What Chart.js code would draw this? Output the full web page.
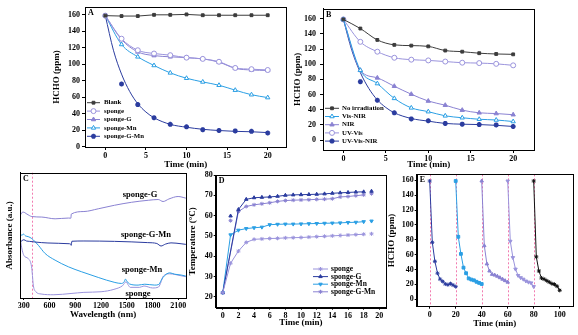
<!DOCTYPE html>
<html lang="en">
<head>
<meta charset="utf-8">
<title>HCHO removal and photothermal tests</title>
<script src="https://cdn.jsdelivr.net/npm/chart.js@4.4.0/dist/chart.umd.min.js"></script>
<style>
  body { margin: 0; background: #fff; }
  #wrap { position: relative; width: 578px; height: 335px; overflow: hidden; background: #fff; }
  canvas { position: absolute; }
</style>
</head>
<body>
<div id="wrap">
  <canvas id="chartA" style="left:40px;top:0px" width="252" height="172"></canvas>
  <canvas id="chartB" style="left:290px;top:0px" width="250" height="172"></canvas>
  <canvas id="chartC" style="left:0px;top:168px" width="190" height="167"></canvas>
  <canvas id="chartD" style="left:185px;top:168px" width="206" height="167"></canvas>
  <canvas id="chartE" style="left:385px;top:168px" width="193" height="167"></canvas>
</div>
<script>
// ---- data ----
// A: HCHO vs time for the different sponges
const timeAB = [0, 2, 4, 6, 8, 10, 12, 14, 16, 18, 20];
const blankA = [159, 158.5, 158.5, 160, 160, 160.5, 159.5, 159.5, 159.5, 159.5, 159.5];
const spongeA = [159, 131, 117, 113, 111, 108, 106.5, 103, 95.5, 94, 93];
const spongeGA = [159, 130, 115, 110.5, 109, 108, 106.5, 102.5, 95, 93, 92.5];
const spongeMnA = [159, 124, 109, 98.5, 89.5, 83, 78.5, 74.5, 68.5, 63, 59.5];
const spongeGMnA = [159, 76, 51, 35, 27, 24, 20.5, 19.5, 19, 18.5, 16.5];
// fitted curve drawn through the sponge-G-Mn / UV-Vis-NIR points
const fitTime = [0, 1, 2, 3, 4, 5, 6, 8, 10, 12, 14, 16, 18, 20];
const spongeGMnFit = [159, 117, 88, 67, 52, 42, 35, 27, 23.5, 21, 19.5, 18.5, 18, 17];

// B: HCHO vs time under different light
const noIrrB = [159, 147, 132, 125.5, 124.5, 123.5, 118, 116.5, 114.5, 113.5, 113];
const uvVisB = [159, 129.5, 116.5, 108.5, 106, 105, 103.5, 102, 101.5, 100.5, 98.5];
const nirB = [159, 92, 82, 71, 60.5, 51.5, 46, 39.5, 36, 35, 33.5];
const visNirB = [159, 92, 74.5, 55, 42.5, 37.5, 32, 29.5, 27.5, 26.5, 24.5];
const uvVisNirB = [159, 77, 52.5, 36, 28, 25.5, 22, 21, 20.5, 20, 18];
const uvVisNirFit = [159, 118, 89, 68, 53, 43, 36, 28.5, 25, 22, 21, 20.5, 19.5, 18];

// C: absorbance spectra (a.u.)
const wlSpongeG = [258, 275, 295, 335, 393, 509, 664, 819, 848, 853, 1000, 1167, 1356, 1556, 1750, 1866, 1923, 1990, 2098, 2188];
const absSpongeG = [66, 68, 68.5, 67, 65, 64.6, 63.2, 63.8, 63.7, 67, 69, 71.2, 74, 76.4, 78, 78.6, 77, 79, 81, 79.7];
const wlSpongeGMn = [258, 300, 330, 368, 426, 581, 833, 847, 852, 860, 1000, 1357, 1744, 1850, 1899, 1950, 2015, 2132, 2188];
const absSpongeGMn = [44.7, 46.5, 45.5, 45.2, 44.7, 43.9, 43.3, 43, 42, 45.3, 45.5, 45.2, 44.2, 43.5, 41.5, 43, 44, 43.3, 42.8];
const wlSpongeMn = [258, 275, 295, 320, 350, 393, 430, 470, 548, 664, 819, 974, 1167, 1361, 1438, 1470, 1485, 1500, 1535, 1632, 1709, 1826, 1872, 1900, 1922, 1960, 2000, 2058, 2136, 2188];
const absSpongeMn = [51.5, 50, 51, 49.5, 49, 47.4, 45, 42, 35.5, 30.2, 24.9, 20.9, 16.4, 12.4, 11.6, 13, 15.1, 13.5, 11.1, 10.3, 11, 10.3, 10.8, 14, 16.4, 19, 20.1, 19, 18.3, 17.5];
const wlSponge = [258, 265, 300, 350, 390, 400, 410, 440, 500, 650, 850, 1000, 1200, 1350, 1450, 1490, 1520, 1540, 1650, 1700, 1800, 1870, 1900, 1920, 2000, 2060, 2130, 2188];
const absSponge = [48, 44, 34, 31.5, 24.9, 18, 10.3, 5, 3.2, 2.6, 3.6, 4.5, 5, 6.9, 9.8, 12.9, 10, 8.5, 8.5, 9.6, 8, 8.8, 13, 16.9, 19.3, 18.8, 17.8, 17];
const edgeC = [400];

// D: temperature vs time
const timeD = [0, 1, 2, 3, 4, 5, 6, 7, 8, 9, 10, 11, 12, 13, 14, 15, 16, 17, 18];
const timeDG = [0, 2, 3, 4, 5, 6, 7, 8, 9, 10, 11, 12, 13, 14, 15, 16, 17, 18];
const tSponge = [22, 36.5, 42.5, 46.8, 48.3, 48.5, 48.7, 48.8, 49, 49.1, 49.2, 49.4, 49.6, 49.8, 50, 50.2, 50.4, 50.6, 50.8];
const tSpongeMn = [22, 50.5, 52.8, 53.6, 54, 54.3, 55.5, 55.7, 55.8, 55.8, 55.9, 56, 56.1, 56.2, 56.3, 56.4, 56.6, 56.7, 57];
const tSpongeG = [22, 63, 68, 68.8, 69, 69.2, 69.5, 70, 70.2, 70.3, 70.4, 70.5, 70.7, 71, 71.2, 71.4, 71.6, 71.7];
const tSpongeGMn = [22, 62, 64.5, 65.3, 65.8, 66.3, 67, 67.4, 67.6, 67.7, 67.8, 68, 68.1, 68.3, 69.2, 69.4, 69.8, 70.2];
// loose markers at t = 1 and t = 19
const looseT1 = [1, 19];
const looseT19 = [19];
const looseG = [59.8, 72];
const looseGMn = [57.5, 70.8];
const looseMn = [57.3];
const looseSponge = [51];

// E: five recycling runs
const cycleT1 = [0, 2, 4, 6, 8, 10, 12, 14, 16, 18, 20];
const cycleT2 = [20, 22, 24, 26, 28, 30, 32, 34, 36, 38, 40];
const cycleT3 = [40, 42, 44, 46, 48, 50, 52, 54, 56, 58, 60];
const cycleT4 = [60, 62, 64, 66, 68, 70, 72, 74, 76, 78, 80];
const cycleT5 = [80, 82, 84, 86, 88, 90, 92, 94, 96, 98, 100];
const cycle1 = [159, 76.5, 51, 35, 27, 24, 20.5, 19.5, 21, 19, 17];
const cycle2 = [159, 84, 61, 42.5, 35, 28, 26.5, 25.5, 23.5, 22, 20.5];
const cycle3 = [159, 72, 47.5, 38, 33.5, 32.5, 31, 29, 27, 25, 23];
const cycle4 = [159, 78, 56, 40.5, 32, 29, 27, 24.5, 23, 22, 17];
const cycle5 = [159, 57, 38, 28.5, 27, 25, 23, 21, 20, 17.5, 12];
const cycleStarts = [0, 20, 40, 60, 80];

// tick labels
const ticksTime20 = [0, 5, 10, 15, 20];
const ticksHCHO = [0, 20, 40, 60, 80, 100, 120, 140, 160];
const ticksWave = [300, 600, 900, 1200, 1500, 1800, 2100];
const ticksTimeD = [0, 2, 4, 6, 8, 10, 12, 14, 16, 18, 20];
const ticksTemp = [20, 30, 40, 50, 60, 70, 80];
const ticksTimeE = [0, 20, 40, 60, 80, 100];

// colours
const cGray = '#3c3c3c', cLav = '#9a93dc', cLav2 = '#8a82d2', cLight = '#2b9fe4', cDark = '#2b3c9f', cPink = '#f27bb0';

// ---- helpers ----
const FONT = "'Liberation Serif', 'Times New Roman', serif";
Chart.defaults.font.family = FONT;
Chart.defaults.font.weight = 'bold';
Chart.defaults.font.size = 8;
Chart.defaults.color = '#000';
Chart.defaults.animation = false;
Chart.defaults.responsive = false;
Chart.defaults.plugins.legend.display = false;
Chart.defaults.plugins.tooltip.enabled = false;

const pts = (xs, ys) => xs.map((x, i) => ({ x: x, y: ys[i] }));

function series(label, xs, ys, color, style, extra) {
  return Object.assign({
    label: label,
    data: pts(xs, ys),
    borderColor: color,
    backgroundColor: color,
    pointBackgroundColor: color,
    pointBorderColor: color,
    pointStyle: style,
    pointRadius: 2.5,
    pointBorderWidth: 1,
    borderWidth: 1,
    cubicInterpolationMode: 'monotone'
  }, extra || {});
}

function axis(o) {
  return {
    type: 'linear',
    min: o.min,
    max: o.max,
    border: { display: true, color: '#000', width: 1 },
    grid: { drawOnChartArea: false, drawTicks: true, tickLength: o.tick || 3, color: '#000' },
    ticks: {
      display: o.labels !== false, padding: o.pad || 1, font: { size: o.fs || 8 },
      maxRotation: 0, autoSkip: false, callback: v => String(v)
    },
    title: { display: true, text: o.title, font: { size: 9 }, padding: o.tpad },
    afterBuildTicks: s => { s.ticks = o.ticks.map(v => ({ value: v })); },
    afterFit: s => { if (s.isHorizontal()) s.height = o.size; else s.width = o.size; }
  };
}

// box round the plot area plus the panel letter
const frame = {
  id: 'frame',
  afterDraw(chart, args, o) {
    const { ctx, chartArea: a } = chart;
    ctx.save();
    ctx.strokeStyle = '#000';
    ctx.lineWidth = 1;
    ctx.strokeRect(Math.round(a.left) + 0.5, Math.round(a.top) + 0.5, Math.round(a.right - a.left), Math.round(a.bottom - a.top));
    ctx.fillStyle = '#000';
    ctx.font = 'bold 8px ' + FONT;
    ctx.textBaseline = 'middle';
    ctx.fillText(o.letter, a.left + 3, a.top + 6);
    ctx.restore();
  }
};

// dashed vertical marker lines
const vlines = {
  id: 'vlines',
  beforeDatasetsDraw(chart, args, o) {
    if (!o.values) return;
    const { ctx, chartArea: a, scales } = chart;
    ctx.save();
    ctx.strokeStyle = o.color;
    ctx.lineWidth = 1;
    ctx.setLineDash([2, 2]);
    o.values.forEach(v => {
      const px = Math.round(scales.x.getPixelForValue(v)) + 0.5;
      ctx.beginPath();
      ctx.moveTo(px, a.top);
      ctx.lineTo(px, a.bottom);
      ctx.stroke();
    });
    ctx.restore();
  }
};

// legend drawn inside the plot: line + marker + label
const inlineLegend = {
  id: 'inlineLegend',
  afterDatasetsDraw(chart, args, o) {
    if (!o.rows) return;
    const ctx = chart.ctx;
    ctx.save();
    ctx.textBaseline = 'middle';
    o.rows.forEach((idx, i) => {
      const ds = chart.data.datasets[idx];
      const y = o.y + i * o.dy;
      ctx.strokeStyle = ds.borderColor;
      ctx.lineWidth = 1;
      ctx.beginPath();
      ctx.moveTo(o.x, y);
      ctx.lineTo(o.x + o.len, y);
      ctx.stroke();
      ctx.fillStyle = ds.pointBackgroundColor;
      ctx.strokeStyle = ds.pointBorderColor;
      ctx.lineWidth = ds.pointBorderWidth;
      Chart.helpers.drawPoint(ctx, { pointStyle: ds.pointStyle, rotation: ds.pointRotation || 0, radius: ds.pointRadius, borderWidth: ds.pointBorderWidth }, o.x + o.len / 2, y);
      ctx.fillStyle = '#000';
      ctx.font = 'bold ' + o.size + 'px ' + FONT;
      ctx.fillText(ds.label, o.x + o.len + o.gap, y);
    });
    ctx.restore();
  }
};

// free text labels next to curves
const notes = {
  id: 'notes',
  afterDatasetsDraw(chart, args, o) {
    if (!o.items) return;
    const ctx = chart.ctx;
    ctx.save();
    ctx.fillStyle = '#000';
    ctx.font = 'bold ' + o.size + 'px ' + FONT;
    ctx.textAlign = 'center';
    ctx.textBaseline = 'middle';
    o.items.forEach(it => ctx.fillText(it.text, it.x, it.y));
    ctx.restore();
  }
};

const allPlugins = [frame, vlines, inlineLegend, notes];

// ---- A ----
new Chart(document.getElementById('chartA'), {
  type: 'line',
  data: {
    datasets: [
      series('Blank', timeAB, blankA, cGray, 'rect', { pointRadius: 2, cubicInterpolationMode: 'default', tension: 0 }),
      series('sponge', timeAB, spongeA, cLav, 'circle', { pointBackgroundColor: '#fff' }),
      series('sponge-G', timeAB, spongeGA, cLav2, 'triangle'),
      series('sponge-Mn', timeAB, spongeMnA, cLight, 'triangle', { pointBackgroundColor: '#fff' }),
      series('fit', fitTime, spongeGMnFit, cDark, false, { pointRadius: 0 }),
      series('sponge-G-Mn', timeAB, spongeGMnA, cDark, 'star', { showLine: false, pointBorderWidth: 1.6 })
    ]
  },
  options: {
    layout: { padding: { left: 0, top: 7, right: 4, bottom: 0 } },
    scales: {
      x: axis({ min: -2.5, max: 22.3, ticks: ticksTime20, title: 'Time (min)', size: 25, tpad: { top: 0, bottom: 1.6 }, pad: 1 }),
      y: axis({ min: -0.5, max: 169.5, ticks: ticksHCHO, title: 'HCHO (ppm)', size: 45, tpad: { top: 11.6, bottom: 0 }, pad: 2 })
    },
    plugins: {
      frame: { letter: 'A' },
      inlineLegend: { rows: [0, 1, 2, 3, 5], x: 47, y: 102.7, dy: 8.4, len: 13, gap: 4, size: 6.8 }
    }
  },
  plugins: allPlugins
});

// ---- B ----
new Chart(document.getElementById('chartB'), {
  type: 'line',
  data: {
    datasets: [
      series('No irradiation', timeAB, noIrrB, cGray, 'rect', { pointRadius: 2 }),
      series('Vis-NIR', timeAB, visNirB, cLight, 'triangle', { pointBackgroundColor: '#fff' }),
      series('NIR', timeAB, nirB, cLav2, 'triangle'),
      series('UV-Vis', timeAB, uvVisB, cLav, 'circle', { pointBackgroundColor: '#fff' }),
      series('fit', fitTime, uvVisNirFit, cDark, false, { pointRadius: 0 }),
      series('UV-Vis-NIR', timeAB, uvVisNirB, cDark, 'star', { showLine: false, pointBorderWidth: 1.6 })
    ]
  },
  options: {
    layout: { padding: { left: 0, top: 5, right: 4, bottom: 0 } },
    scales: {
      x: axis({ min: -2.4, max: 22.5, ticks: ticksTime20, title: 'Time (min)', size: 22, tpad: { top: 0, bottom: 1.6 }, pad: 1 }),
      y: axis({ min: -13, max: 173, ticks: ticksHCHO, title: 'HCHO (ppm)', size: 33, tpad: { top: 1.9, bottom: 0 }, pad: 4 })
    },
    plugins: {
      frame: { letter: 'B' },
      inlineLegend: { rows: [0, 1, 2, 3, 5], x: 35, y: 108.3, dy: 8.2, len: 14, gap: 3, size: 6.8 }
    }
  },
  plugins: allPlugins
});

// ---- C ----
const specLine = { pointRadius: 0, borderWidth: 1, cubicInterpolationMode: 'monotone' };
new Chart(document.getElementById('chartC'), {
  type: 'line',
  data: {
    datasets: [
      series('sponge-G', wlSpongeG, absSpongeG, cLav2, false, specLine),
      series('sponge-G-Mn', wlSpongeGMn, absSpongeGMn, cDark, false, specLine),
      series('sponge-Mn', wlSpongeMn, absSpongeMn, cLight, false, specLine),
      series('sponge', wlSponge, absSponge, cLav, false, specLine)
    ]
  },
  options: {
    layout: { padding: { left: 0, top: 4.7, right: 4, bottom: 0 } },
    scales: {
      x: axis({ min: 255, max: 2190, ticks: ticksWave, title: 'Wavelength (nm)', size: 37, tpad: { top: 0, bottom: 14.6 }, tick: 2, pad: 1 }),
      y: axis({ min: 0, max: 100, ticks: [], labels: false, title: 'Absorbance (a.u.)', size: 20, tpad: { top: 4.6, bottom: 0 } })
    },
    plugins: {
      frame: { letter: 'C' },
      vlines: { values: edgeC, color: cPink },
      notes: {
        size: 8.5,
        items: [
          { text: 'sponge-G', x: 140, y: 27 },
          { text: 'sponge-G-Mn', x: 146, y: 67 },
          { text: 'sponge-Mn', x: 142, y: 102 },
          { text: 'sponge', x: 138, y: 126 }
        ]
      }
    }
  },
  plugins: allPlugins
});

// ---- D ----
const dLine = { pointRadius: 2, cubicInterpolationMode: 'default', tension: 0 };
const dLoose = { pointRadius: 2, showLine: false };
new Chart(document.getElementById('chartD'), {
  type: 'line',
  data: {
    datasets: [
      series('sponge', timeD, tSponge, cLav, 'star', dLine),
      series('sponge-G', timeDG, tSpongeG, cDark, 'triangle', dLine),
      series('sponge-Mn', timeD, tSpongeMn, cLight, 'triangle', Object.assign({ pointRotation: 180 }, dLine)),
      series('sponge-G-Mn', timeDG, tSpongeGMn, cLav2, 'star', dLine),
      series('', looseT1, looseG, cDark, 'triangle', dLoose),
      series('', looseT1, looseGMn, cLav2, 'star', dLoose),
      series('', looseT19, looseMn, cLight, 'triangle', Object.assign({ pointRotation: 180 }, dLoose)),
      series('', looseT19, looseSponge, cLav, 'star', dLoose)
    ]
  },
  options: {
    layout: { padding: { left: 0, top: 7, right: 4.3, bottom: 0 } },
    scales: {
      x: axis({ min: -0.9, max: 20.85, ticks: ticksTimeD, title: 'Time (min)', size: 27.3, tpad: { top: 0, bottom: 6.6 }, tick: 2, pad: 1 }),
      y: axis({ min: 14.6, max: 80, ticks: ticksTemp, title: 'Temperature (°C)', size: 30.7, tpad: { top: 2.6, bottom: 0 }, tick: 2, pad: 1 })
    },
    plugins: {
      frame: { letter: 'D' },
      inlineLegend: { rows: [0, 1, 2, 3], x: 128, y: 101, dy: 7.6, len: 15, gap: 3, size: 7.5 }
    }
  },
  plugins: allPlugins
});

// ---- E ----
const eLine = { pointRadius: 2, cubicInterpolationMode: 'default', tension: 0 };
new Chart(document.getElementById('chartE'), {
  type: 'line',
  data: {
    datasets: [
      series('1st', cycleT1, cycle1, cDark, 'star', eLine),
      series('2nd', cycleT2, cycle2, cLight, 'rect', eLine),
      series('3rd', cycleT3, cycle3, cLav2, 'triangle', eLine),
      series('4th', cycleT4, cycle4, cLav, 'triangle', Object.assign({ pointRotation: 180 }, eLine)),
      series('5th', cycleT5, cycle5, '#111111', 'star', eLine)
    ]
  },
  options: {
    layout: { padding: { left: 0, top: 6.3, right: 5.3, bottom: 0 } },
    scales: {
      x: axis({ min: -10, max: 110, ticks: ticksTimeE, title: 'Time (min)', size: 28.3, tpad: { top: 0, bottom: 5.6 }, tick: 2, pad: 1 }),
      y: axis({ min: -10, max: 168, ticks: ticksHCHO, title: 'HCHO (ppm)', size: 31.7, tpad: { top: 1.6, bottom: 0 }, tick: 2, pad: 1 })
    },
    plugins: {
      frame: { letter: 'E' },
      vlines: { values: cycleStarts, color: cPink }
    }
  },
  plugins: allPlugins
});
</script>
</body>
</html>
